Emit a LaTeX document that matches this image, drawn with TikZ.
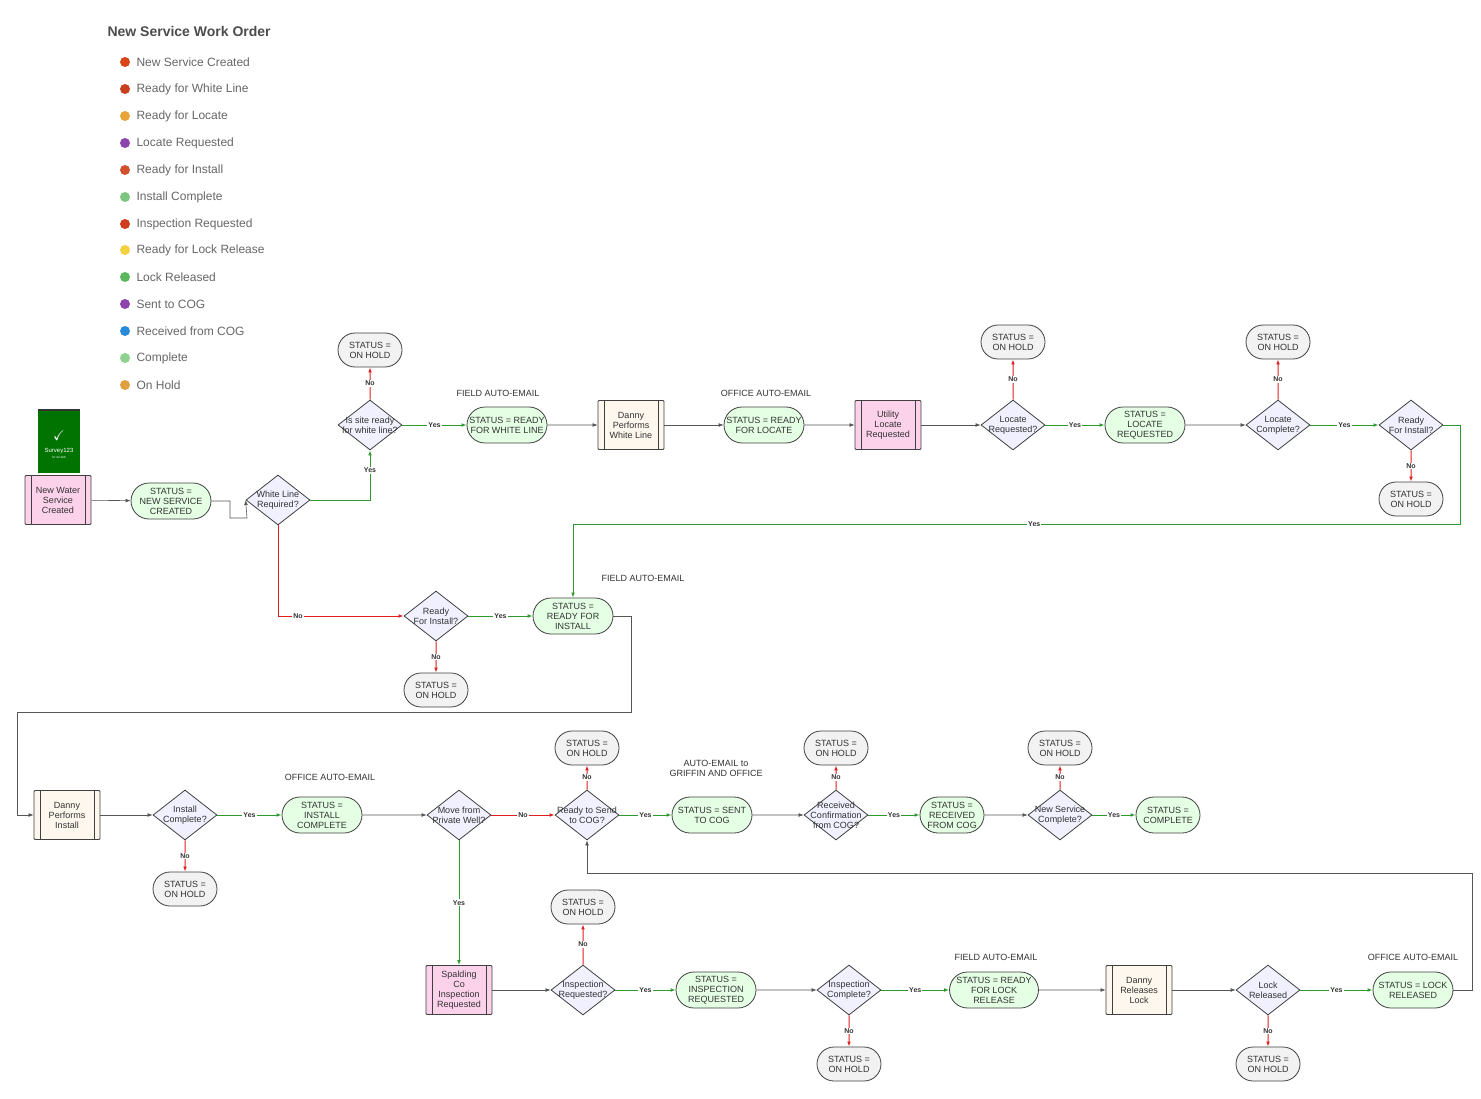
\documentclass[tikz,border=0pt]{standalone}
\usepackage{amssymb}
\usepackage{fontspec}
\setmainfont{Liberation Sans}
\usetikzlibrary{shapes.geometric,shapes.misc,arrows.meta}
\definecolor{gl}{HTML}{2E9A2E}
\definecolor{rl}{HTML}{E02020}
\definecolor{pl}{HTML}{555555}
\begin{document}
\begin{tikzpicture}[x=1pt,y=-1pt,
  base/.style={draw=black!75,line width=0.8pt,align=center,inner sep=1pt,font=\fontsize{9}{10}\selectfont,text=black!80},
  st/.style={base,rounded rectangle,fill=green!10,minimum width=82pt,minimum height=36pt},
  hold/.style={base,rounded rectangle,fill=gray!10,minimum width=66pt,minimum height=34pt},
  dec/.style={base,diamond,aspect=1.3,fill=blue!6,minimum width=64pt,minimum height=50pt,inner sep=-9pt},
  proc/.style={base,rectangle,rounded corners=1pt,minimum width=66pt,minimum height=49pt,
    path picture={\draw[black!75,line width=0.8pt] ([xshift=6pt]path picture bounding box.north west) -- ([xshift=6pt]path picture bounding box.south west);
      \draw[black!75,line width=0.8pt] ([xshift=-6pt]path picture bounding box.north east) -- ([xshift=-6pt]path picture bounding box.south east);}},
  pink/.style={proc,fill=magenta!18},
  cream/.style={proc,fill=yellow!8!orange!6},
  lab/.style={font=\fontsize{9}{10}\selectfont,text=black!80,align=center},
  yl/.style={draw=gl,line width=1pt,-{Latex[length=5pt]}},
  nl/.style={draw=rl,line width=1pt,-{Latex[length=5pt]}},
  gy/.style={draw=pl,line width=0.6pt,-{Latex[length=5pt]}},
  tg/.style={font=\fontsize{7}{8}\bfseries\selectfont,fill=white,inner sep=1pt,text=black!80},
  li/.style={font=\fontsize{12}{14}\selectfont,text=black!60,anchor=west},
]
\useasboundingbox (0,0) rectangle (1481,1099);
% legend
\node[anchor=west,font=\fontsize{14}{16}\bfseries\selectfont,text=black!70] (title) at (104,31) {New Service Work Order};
\foreach \y/\c/\t [count=\i] in {62/D9441A/New Service Created,89/C8401E/Ready for White Line,116/E8A33A/Ready for Locate,143/8E44AD/Locate Requested,170/D2522E/Ready for Install,197/7DC67F/Install Complete,224/D03C1E/Inspection Requested,250/F4D03F/Ready for Lock Release,277/5CB85C/Lock Released,304/8E44AD/Sent to COG,331/2A8AD8/Received from COG,358/8ED08E/Complete,385/E0A040/On Hold}{
  \definecolor{ic}{HTML}{\c}
  \node[circle,fill=ic,minimum size=10pt,inner sep=0pt] (ic\i) at (125,\y) {};
  \node[li] (lt\i) at (133,\y) {\t};
}
% survey icon
\node[fill=green!45!black,minimum width=42pt,minimum height=64pt,anchor=north] (svy) at (59,409) {};
\draw[black!80,line width=2pt] (38,410) -- (80,410);
\node[text=white,font=\fontsize{14}{14}\bfseries\selectfont] (chk) at (59,436) {$\checkmark$};
\node[text=white,font=\fontsize{6}{6}\selectfont] (svt) at (59,451) {Survey123};
\node[text=white,font=\fontsize{3}{3}\selectfont] (svs) at (59,457) {for ArcGIS};
% row 1
\node[pink] (n1) at (58,500) {New Water\\Service\\Created};
\node[st] (s1) at (171,501) {STATUS =\\NEW SERVICE\\CREATED};
\node[dec] (d1) at (278,500) {White Line\\Required?};
\node[dec] (d2) at (370,425) {Is site ready\\for white line?};
\node[hold] (h1) at (370,350) {STATUS =\\ON HOLD};
\node[st] (s2) at (507,425) {STATUS = READY\\FOR WHITE LINE};
\node[lab] (l1) at (498,393) {FIELD AUTO-EMAIL};
\node[cream] (p2) at (631,425) {Danny\\Performs\\White Line};
\node[st] (s3) at (764,425) {STATUS = READY\\FOR LOCATE};
\node[lab] (l2) at (766,393) {OFFICE AUTO-EMAIL};
\node[pink] (p3) at (888,425) {Utility\\Locate\\Requested};
\node[dec] (d3) at (1013,425) {Locate\\Requested?};
\node[hold] (h2) at (1013,342) {STATUS =\\ON HOLD};
\node[st] (s4) at (1145,425) {STATUS =\\LOCATE\\REQUESTED};
\node[dec] (d4) at (1278,425) {Locate\\Complete?};
\node[hold] (h3) at (1278,342) {STATUS =\\ON HOLD};
\node[dec] (d5) at (1411,425) {Ready\\For Install?};
\node[hold] (h4) at (1411,499) {STATUS =\\ON HOLD};
% row 2
\node[dec] (d6) at (436,616) {Ready\\For Install?};
\node[hold] (h5) at (436,690) {STATUS =\\ON HOLD};
\node[st] (s5) at (573,616) {STATUS =\\READY FOR\\INSTALL};
\node[lab] (l3) at (643,578) {FIELD AUTO-EMAIL};
% row 3
\node[cream] (p4) at (67,815) {Danny\\Performs\\Install};
\node[dec] (d7) at (185,815) {Install\\Complete?};
\node[hold] (h6) at (185,889) {STATUS =\\ON HOLD};
\node[st] (s6) at (322,815) {STATUS =\\INSTALL\\COMPLETE};
\node[lab] (l4) at (330,777) {OFFICE AUTO-EMAIL};
\node[dec] (d8) at (459,815) {Move from\\Private Well?};
\node[dec] (d9) at (587,815) {Ready to Send\\to COG?};
\node[hold] (h7) at (587,748) {STATUS =\\ON HOLD};
\node[st] (s7) at (712,815) {STATUS = SENT\\TO COG};
\node[lab] (l5) at (716,768) {AUTO-EMAIL to\\GRIFFIN AND OFFICE};
\node[dec] (d10) at (836,815) {Received\\Confirmation\\from COG?};
\node[hold] (h8) at (836,748) {STATUS =\\ON HOLD};
\node[st,minimum width=66pt] (s8) at (952,815) {STATUS =\\RECEIVED\\FROM COG};
\node[dec] (d11) at (1060,815) {New Service\\Complete?};
\node[hold] (h9) at (1060,748) {STATUS =\\ON HOLD};
\node[st,minimum width=66pt] (s9) at (1168,815) {STATUS =\\COMPLETE};
% row 4
\node[pink] (p5) at (459,990) {Spalding\\Co\\Inspection\\Requested};
\node[dec] (d12) at (583,990) {Inspection\\Requested?};
\node[hold] (h10) at (583,907) {STATUS =\\ON HOLD};
\node[st] (s10) at (716,990) {STATUS =\\INSPECTION\\REQUESTED};
\node[dec] (d13) at (849,990) {Inspection\\Complete?};
\node[hold] (h11) at (849,1064) {STATUS =\\ON HOLD};
\node[st] (s11) at (994,990) {STATUS = READY\\FOR LOCK\\RELEASE};
\node[lab] (l6) at (996,957) {FIELD AUTO-EMAIL};
\node[cream] (p6) at (1139,990) {Danny\\Releases\\Lock};
\node[dec] (d14) at (1268,990) {Lock\\Released};
\node[hold] (h12) at (1268,1064) {STATUS =\\ON HOLD};
\node[st] (s12) at (1413,990) {STATUS = LOCK\\RELEASED};
\node[lab] (l7) at (1413,957) {OFFICE AUTO-EMAIL};
% connectors
\draw[gy] (n1) -- (s1);
\draw[gy] (s1.east) -- (230,501) -- (230,518) -- (247,518) -- (d1.west);
\draw[yl] (d1.east) -| node[tg,pos=0.8]{Yes} (d2.south);
\draw[nl] (d2.north) -- node[tg]{No} (h1);
\draw[yl] (d2) -- node[tg]{Yes} (s2);
\draw[gy] (s2) -- (p2);
\draw[gy] (p2) -- (s3);
\draw[gy] (s3) -- (p3);
\draw[gy] (p3) -- (d3);
\draw[nl] (d3.north) -- node[tg]{No} (h2);
\draw[yl] (d3) -- node[tg]{Yes} (s4);
\draw[gy] (s4) -- (d4);
\draw[nl] (d4.north) -- node[tg]{No} (h3);
\draw[yl] (d4) -- node[tg]{Yes} (d5);
\draw[nl] (d5.south) -- node[tg]{No} (h4);
\draw[yl] (d5.east) -- (1460,425) -- (1460,524) -- node[tg,pos=0.48]{Yes} (573,524) -- (s5.north);
\draw[nl] (d1.south) |- node[tg,pos=0.58]{No} (d6.west);
\draw[yl] (d6) -- node[tg]{Yes} (s5);
\draw[nl] (d6.south) -- node[tg]{No} (h5);
\draw[gy] (s5.east) -- (631,616) -- (631,712) -- (17,712) -- (17,815) -- (p4.west);
\draw[gy] (p4) -- (d7);
\draw[yl] (d7) -- node[tg]{Yes} (s6);
\draw[nl] (d7.south) -- node[tg]{No} (h6);
\draw[gy] (s6) -- (d8);
\draw[nl] (d8) -- node[tg]{No} (d9);
\draw[yl] (d8.south) -- node[tg,pos=0.5]{Yes} (p5);
\draw[nl] (d9.north) -- node[tg]{No} (h7);
\draw[yl] (d9) -- node[tg]{Yes} (s7);
\draw[gy] (s7) -- (d10);
\draw[nl] (d10.north) -- node[tg]{No} (h8);
\draw[yl] (d10) -- node[tg]{Yes} (s8);
\draw[gy] (s8) -- (d11);
\draw[nl] (d11.north) -- node[tg]{No} (h9);
\draw[yl] (d11) -- node[tg]{Yes} (s9);
\draw[gy] (p5) -- (d12);
\draw[nl] (d12.north) -- node[tg]{No} (h10);
\draw[yl] (d12) -- node[tg]{Yes} (s10);
\draw[gy] (s10) -- (d13);
\draw[nl] (d13.south) -- node[tg]{No} (h11);
\draw[yl] (d13) -- node[tg]{Yes} (s11);
\draw[gy] (s11) -- (p6);
\draw[gy] (p6) -- (d14);
\draw[nl] (d14.south) -- node[tg]{No} (h12);
\draw[yl] (d14) -- node[tg]{Yes} (s12);
\draw[gy] (s12.east) -- (1472,990) -- (1472,873) -- (587,873) -- (d9.south);
\end{tikzpicture}
\end{document}
